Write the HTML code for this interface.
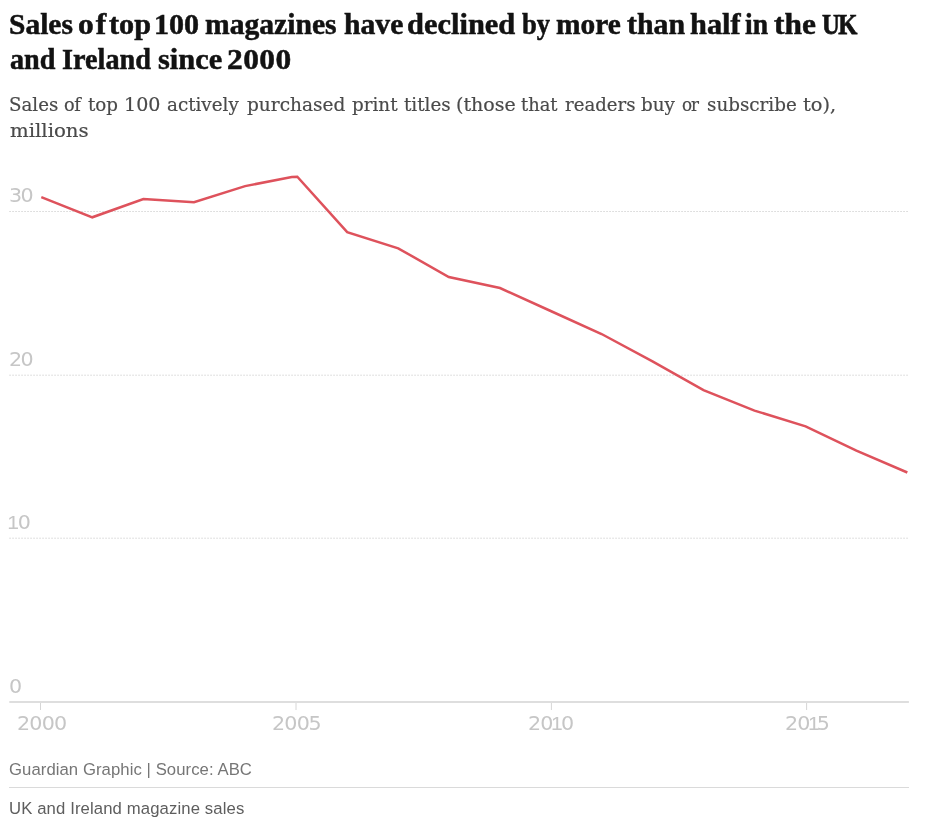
<!DOCTYPE html>
<html lang="en">
<head>
<meta charset="utf-8">
<title>Sales of top 100 magazines</title>
<style>
html,body{margin:0;padding:0;background:#fff;}
body{width:937px;height:821px;position:relative;overflow:hidden;font-family:"Liberation Sans",sans-serif;}
.abs{position:absolute;white-space:nowrap;margin:0;}
h1.abs{font-family:"Liberation Serif",serif;font-weight:bold;font-size:28.6px;line-height:36px;color:#121212;-webkit-text-stroke:0.5px #121212;left:0;width:937px;height:36px;}
h1 span,p.sub span{position:absolute;top:0;transform-origin:0 0;white-space:nowrap;}
p.sub{font-family:"DejaVu Serif","Liberation Serif",serif;font-size:19px;line-height:26px;color:#4a4a4a;-webkit-text-stroke:0.2px #4a4a4a;left:0;width:937px;height:26px;}
.ylab{font-family:"DejaVu Sans","Liberation Sans",sans-serif;font-weight:400;font-size:18.8px;line-height:18px;color:#c6c6c6;left:9px;transform:scaleX(1.1);transform-origin:0 0;letter-spacing:-1.5px;}
.xlab{font-family:"DejaVu Sans","Liberation Sans",sans-serif;font-weight:400;font-size:18.8px;line-height:18px;color:#c6c6c6;letter-spacing:-0.7px;transform:scaleX(1.1);transform-origin:0 0;}
.xlab i,.ylab i{font-style:normal;font-family:"Liberation Sans",sans-serif;font-size:19.2px;margin:0 -1px 0 -1.6px;}
.xlab b{font-weight:400;margin-left:-1px;letter-spacing:-0.8px;}
.src{letter-spacing:0.07px;font-size:16.7px;line-height:16px;color:#767676;left:9px;}
.cap{letter-spacing:0.12px;font-size:16.7px;line-height:16px;color:#5e5e5e;left:9px;}
svg{position:absolute;left:0;top:0;}
</style>
</head>
<body>
<h1 class="abs" id="t1" style="top:7px;"><span style="left:8.87px;transform:scaleX(1.0307)">Sales</span> <span style="left:77.5px;transform:scaleX(1.1);letter-spacing:1.79px">of</span> <span style="left:109.3px;transform:scaleX(1.0562)">top</span> <span style="left:154.1px;transform:scaleX(1.0519)">100</span> <span style="left:204.9px;transform:scaleX(1.0359)">magazines</span> <span style="left:343.5px;transform:scaleX(1.0372)">have</span> <span style="left:407.44px;transform:scaleX(1.0648)">declined</span> <span style="left:521.6px;transform:scaleX(0.93);letter-spacing:-0.04px">by</span> <span style="left:556.2px;transform:scaleX(1.0291)">more</span> <span style="left:626.7px;transform:scaleX(1.0427)">than</span> <span style="left:690.1px;transform:scaleX(1.0614)">half</span> <span style="left:744.5px;transform:scaleX(0.9647)">in</span> <span style="left:774.3px;transform:scaleX(1.0982)">the</span> <span style="left:821.9px;transform:scaleX(0.86);letter-spacing:-1.62px;-webkit-text-stroke:0.75px #121212">UK</span></h1>
<h1 class="abs" id="t2" style="top:42px;"><span style="left:9.6px;transform:scaleX(0.9849)">and</span> <span style="left:61.5px;transform:scaleX(0.9874)">Ireland</span> <span style="left:157.5px;transform:scaleX(1.0626)">since</span> <span style="left:226.9px;transform:scaleX(1.1);letter-spacing:0.37px">2000</span></h1>
<p class="abs sub" id="s1" style="top:91.2px;"><span style="left:8.64px;transform:scaleX(0.9584)">Sales</span> <span style="left:63.6px;transform:scaleX(0.93);letter-spacing:-0.44px">of</span> <span style="left:87.9px;transform:scaleX(0.9622)">top</span> <span style="left:124.39px;transform:scaleX(1.0037)">100</span> <span style="left:166.6px;transform:scaleX(0.9634)">actively</span> <span style="left:247.1px;transform:scaleX(0.9753)">purchased</span> <span style="left:351.7px;transform:scaleX(0.9651)">print</span> <span style="left:404.0px;transform:scaleX(0.9629)">titles</span> <span style="left:456.0px;transform:scaleX(1.0004)">(those</span> <span style="left:521.3px;transform:scaleX(0.9388)">that</span> <span style="left:565.1px;transform:scaleX(0.9543)">readers</span> <span style="left:641.3px;transform:scaleX(0.9661)">buy</span> <span style="left:682.4px;transform:scaleX(0.88);letter-spacing:-1.29px">or</span> <span style="left:707.04px;transform:scaleX(0.9645)">subscribe</span> <span style="left:803.4px;transform:scaleX(1.0195)">to),</span></p>
<p class="abs sub" id="s2" style="top:117.2px;"><span style="left:9.6px;transform:scaleX(1.0387)">millions</span></p>

<svg width="937" height="821" viewBox="0 0 937 821">
  <g stroke="#d6d6d6" stroke-width="1" stroke-dasharray="1.5 1.5" fill="none">
    <line x1="9.3" y1="211.5" x2="908.9" y2="211.5"/>
    <line x1="9.3" y1="375.2" x2="908.9" y2="375.2"/>
    <line x1="9.3" y1="538.2" x2="908.9" y2="538.2"/>
  </g>
  <line x1="9.3" y1="702" x2="908.9" y2="702" stroke="#dedede" stroke-width="2"/>
  <g stroke="#d6d6d6" stroke-width="1">
    <line x1="40.5" y1="703" x2="40.5" y2="710"/>
    <line x1="296" y1="703" x2="296" y2="710"/>
    <line x1="551.4" y1="703" x2="551.4" y2="710"/>
    <line x1="806.6" y1="703" x2="806.6" y2="710"/>
  </g>
  <polyline fill="none" stroke="#de525c" stroke-width="2.5" stroke-linejoin="miter" stroke-linecap="butt"
   points="41.3,197.2 92.3,217.3 143.4,199.0 194.0,202.3 245.1,186.1 291.8,177.0 297.3,176.7 347.2,232.1 398.2,248.3 448.8,277.0 500.0,288.0 550.7,311.0 601.6,334.0 652.5,361.3 703.5,390.2 754.5,410.6 805.6,426.3 856.4,450.6 907.35,472.5"/>
</svg>

<div class="abs ylab" style="top:187px;">30</div>
<div class="abs ylab" style="top:351px;">20</div>
<div class="abs ylab" style="top:514px;left:9px;"><i style="margin:0 0.3px 0 -1.6px">1</i>0</div>
<div class="abs ylab" style="top:678px;">0</div>

<div class="abs xlab" style="left:17px;top:715px;">2000</div>
<div class="abs xlab" style="left:272px;top:715px;">200<b style="margin-left:-0.6px">5</b></div>
<div class="abs xlab" style="left:528px;top:715px;">20<i>1</i>0</div>
<div class="abs xlab" style="left:785px;top:715px;">20<i>1</i><b>5</b></div>

<div class="abs src" id="src" style="top:761.5px;">Guardian Graphic | Source: ABC</div>
<div style="position:absolute;left:9.3px;width:899.6px;top:787px;height:1px;background:#dadada;"></div>
<div class="abs cap" id="cap" style="top:800.6px;">UK and Ireland magazine sales</div>
</body>
</html>
